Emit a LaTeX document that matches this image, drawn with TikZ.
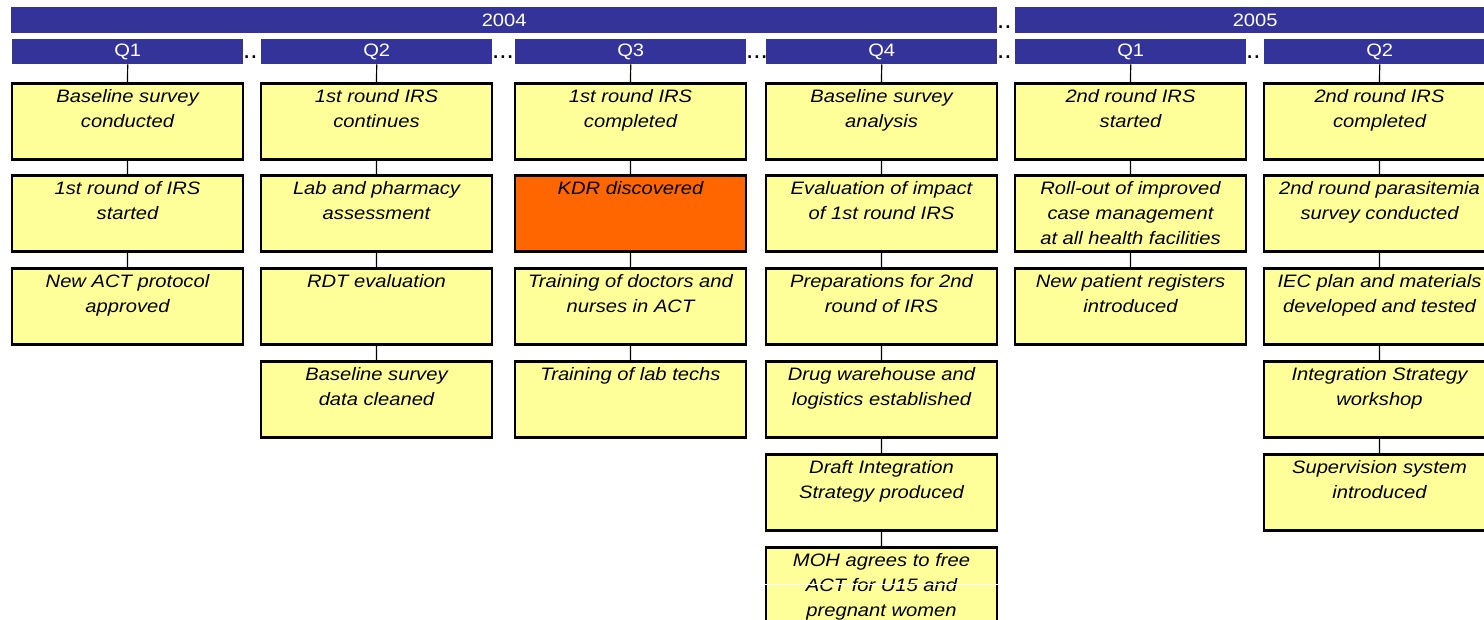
\documentclass[tikz,border=0pt]{standalone}
\usepackage{fontspec}
\setmainfont{Liberation Sans}
\newfontfamily\widefont{Liberation Sans}[FakeStretch=1.12]
\usepackage{tikz}
\usepackage{xcolor}
\definecolor{barblue}{HTML}{333399}
\definecolor{boxyellow}{HTML}{FFFF99}
\definecolor{kdrorange}{HTML}{FF6600}
\begin{document}
\begin{tikzpicture}[x=1pt,y=-1pt,
  bar/.style={fill=barblue,text=white,anchor=north west,inner sep=0pt,font=\widefont\fontsize{18}{20}\selectfont},
  dots/.style={anchor=base west,inner sep=0pt,font=\fontsize{26}{26}\selectfont},
  box/.style={draw=black,line width=2.5pt,fill=boxyellow,anchor=north,inner xsep=3pt,inner ysep=6.5pt,
    font=\widefont\itshape\fontsize{18}{25}\selectfont,
    execute at begin node={\begin{minipage}[t][63pt][t]{225pt}\centering},
    execute at end node={\end{minipage}}},
  link/.style={draw=black,line width=1.2pt}]
\useasboundingbox (0,0) rectangle (1484,619);
\clip (0,0) rectangle (1484,619);
% dots between the bars
\node[dots] (dy) at (997,28) {..};
\node[dots] (d1) at (243,58) {..};
\node[dots] (d2) at (492,58) {...};
\node[dots] (d3) at (746,58) {...};
\node[dots] (d4) at (997,58) {..};
\node[dots] (d5) at (1246,58) {..};
% years
\node[bar,minimum width=986pt,minimum height=26pt] (y2004) at (11,7) {2004};
\node[bar,minimum width=480pt,minimum height=26pt] (y2005) at (1015,7) {2005};
% quarters
\node[bar,minimum width=231pt,minimum height=25.5pt] (qa) at (12,38.5) {Q1};
\node[bar,minimum width=231pt,minimum height=25.5pt] (qb) at (261,38.5) {Q2};
\node[bar,minimum width=231pt,minimum height=25.5pt] (qc) at (515,38.5) {Q3};
\node[bar,minimum width=231pt,minimum height=25.5pt] (qd) at (766,38.5) {Q4};
\node[bar,minimum width=231pt,minimum height=25.5pt] (qe) at (1015,38.5) {Q1};
\node[bar,minimum width=231pt,minimum height=25.5pt] (qf) at (1264,38.5) {Q2};
% 2004 Q1
\node[box] (a1) at (127.5,82) {Baseline survey\\conducted};
\node[box] (a2) at (127.5,174) {1st round of IRS\\started};
\node[box] (a3) at (127.5,267) {New ACT protocol\\approved};
\draw[link] (qa.south)--(a1.north) (a1.south)--(a2.north) (a2.south)--(a3.north);
% 2004 Q2
\node[box] (b1) at (376.5,82) {1st round IRS\\continues};
\node[box] (b2) at (376.5,174) {Lab and pharmacy\\assessment};
\node[box] (b3) at (376.5,267) {RDT evaluation};
\node[box] (b4) at (376.5,360) {Baseline survey\\data cleaned};
\draw[link] (qb.south)--(b1.north) (b1.south)--(b2.north) (b2.south)--(b3.north) (b3.south)--(b4.north);
% 2004 Q3
\node[box] (c1) at (630.5,82) {1st round IRS\\completed};
\node[box,fill=kdrorange] (c2) at (630.5,174) {KDR discovered};
\node[box] (c3) at (630.5,267) {Training of doctors and\\nurses in ACT};
\node[box] (c4) at (630.5,360) {Training of lab techs};
\draw[link] (qc.south)--(c1.north) (c1.south)--(c2.north) (c2.south)--(c3.north) (c3.south)--(c4.north);
% 2004 Q4
\node[box] (d1b) at (881.5,82) {Baseline survey\\analysis};
\node[box] (d2b) at (881.5,174) {Evaluation of impact\\of 1st round IRS};
\node[box] (d3b) at (881.5,267) {Preparations for 2nd\\round of IRS};
\node[box] (d4b) at (881.5,360) {Drug warehouse and\\logistics established};
\node[box] (d5b) at (881.5,453) {Draft Integration\\Strategy produced};
\node[box] (d6b) at (881.5,546) {MOH agrees to free\\ACT for U15 and\\pregnant women};
\draw[white,line width=0.8pt] ([yshift=-38pt]d6b.north west)--([yshift=-38pt]d6b.north east);
\draw[link] (qd.south)--(d1b.north) (d1b.south)--(d2b.north) (d2b.south)--(d3b.north)
  (d3b.south)--(d4b.north) (d4b.south)--(d5b.north) (d5b.south)--(d6b.north);
% 2005 Q1
\node[box] (e1) at (1130.5,82) {2nd round IRS\\started};
\node[box] (e2) at (1130.5,174) {Roll-out of improved\\case management\\at all health facilities};
\node[box] (e3) at (1130.5,267) {New patient registers\\introduced};
\draw[link] (qe.south)--(e1.north) (e1.south)--(e2.north) (e2.south)--(e3.north);
% 2005 Q2
\node[box] (f1) at (1379.5,82) {2nd round IRS\\completed};
\node[box] (f2) at (1379.5,174) {2nd round parasitemia\\survey conducted};
\node[box] (f3) at (1379.5,267) {IEC plan and materials\\developed and tested};
\node[box] (f4) at (1379.5,360) {Integration Strategy\\workshop};
\node[box] (f5) at (1379.5,453) {Supervision system\\introduced};
\draw[link] (qf.south)--(f1.north) (f1.south)--(f2.north) (f2.south)--(f3.north)
  (f3.south)--(f4.north) (f4.south)--(f5.north);
\end{tikzpicture}
\end{document}
